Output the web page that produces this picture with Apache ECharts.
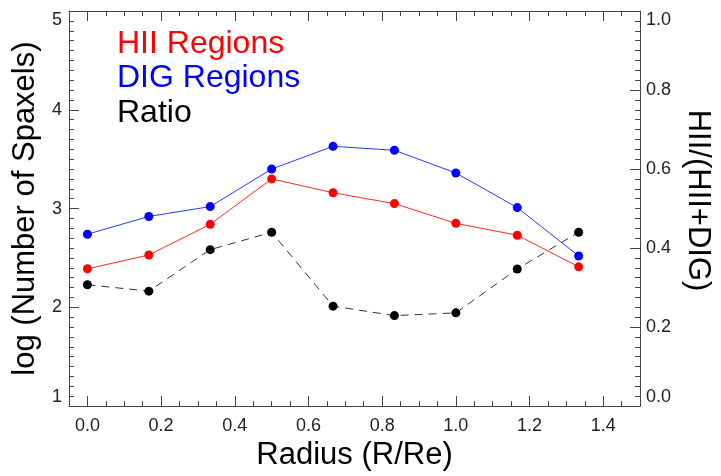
<!DOCTYPE html>
<html>
<head>
<meta charset="utf-8">
<script src="https://cdn.jsdelivr.net/npm/echarts@6/dist/echarts.min.js"></script>
<style>
html,body{margin:0;padding:0;background:#fff;}
#chart{width:721px;height:476px;}
</style>
</head>
<body>
<div id="chart"></div>
<script>
var radius = [0.0, 0.1667, 0.3333, 0.5, 0.6667, 0.8333, 1.0, 1.1667, 1.3333];
var hiiValues = [2.39, 2.53, 2.84, 3.30, 3.16, 3.05, 2.85, 2.73, 2.41];
var digValues = [2.74, 2.92, 3.02, 3.40, 3.63, 3.59, 3.36, 3.01, 2.52];
var ratioValues = [0.307, 0.291, 0.396, 0.44, 0.253, 0.229, 0.236, 0.347, 0.44];
var xTickValues = [0.0, 0.2, 0.4, 0.6, 0.8, 1.0, 1.2, 1.4];
var legendNames = ['HII Regions', 'DIG Regions', 'Ratio'];
var legendColors = ['#ff0000', '#0000ff', '#000000'];

function pairs(xs, ys) { return xs.map(function (x, i) { return [x, ys[i]]; }); }

var FONT = '"Liberation Sans", Arial, Helvetica, sans-serif';
var AX = '#444';
var chart = echarts.init(document.getElementById('chart'), null, {renderer: 'canvas'});

function xAxisCfg(pos, major) {
  var c = {
    type: 'value', position: pos, min: -0.05, max: 1.5, gridIndex: 0,
    splitLine: {show: false},
    axisLine: {show: major, onZero: false, lineStyle: {color: AX, width: 1}},
    axisTick: {show: true, inside: true, length: major ? 10 : 5, lineStyle: {color: AX, width: 1}},
    axisLabel: {show: false}
  };
  if (major) {
    c.axisTick.customValues = xTickValues;
  } else {
    c.interval = 0.05;
  }
  if (major && pos === 'bottom') {
    c.axisLabel = {show: true, customValues: xTickValues, margin: 11, color: '#222', fontSize: 18, fontFamily: FONT,
      formatter: function (v) { return v.toFixed(1); }};
    c.name = 'Radius (R/Re)';
    c.nameLocation = 'middle';
    c.nameGap = 30;
    c.nameTextStyle = {fontSize: 31, fontFamily: FONT, color: '#000', verticalAlign: 'top'};
  }
  return c;
}

var option = {
  animation: false,
  backgroundColor: '#fff',
  grid: {left: 69, top: 11, width: 575, height: 400, containLabel: false},
  xAxis: [xAxisCfg('bottom', true), xAxisCfg('bottom', false), xAxisCfg('top', true), xAxisCfg('top', false)],
  yAxis: [
    {
      type: 'value', position: 'left', min: 1, max: 5, interval: 1,
      splitLine: {show: false},
      axisLine: {show: true, onZero: false, lineStyle: {color: AX, width: 1}},
      axisTick: {show: true, inside: true, length: 10, lineStyle: {color: AX}},
      minorTick: {show: true, splitNumber: 10, length: 5, lineStyle: {color: AX}},
      axisLabel: {margin: 7, color: '#222', fontSize: 18, fontFamily: FONT,
        verticalAlignMinLabel: 'bottom', verticalAlignMaxLabel: 'top'},
      name: 'log (Number of Spaxels)', nameLocation: 'middle', nameGap: 22, nameRotate: 90,
      nameTextStyle: {fontSize: 31, fontFamily: FONT, color: '#000'}
    },
    {
      type: 'value', position: 'right', min: 0, max: 1, interval: 0.2,
      splitLine: {show: false},
      axisLine: {show: true, onZero: false, lineStyle: {color: AX, width: 1}},
      axisTick: {show: true, inside: true, length: 10, lineStyle: {color: AX}},
      minorTick: {show: true, splitNumber: 8, length: 5, lineStyle: {color: AX}},
      axisLabel: {margin: 6, color: '#222', fontSize: 18, fontFamily: FONT,
        verticalAlignMinLabel: 'bottom', verticalAlignMaxLabel: 'top',
        formatter: function (v) { return v.toFixed(1); }},
      name: 'HII/(HII+DIG)', nameLocation: 'middle', nameGap: 38, nameRotate: -90,
      nameTextStyle: {fontSize: 31, fontFamily: FONT, color: '#000', padding: [0, 16, 0, 0]}
    }
  ],
  series: [
    {
      name: legendNames[0], type: 'line', xAxisIndex: 0, yAxisIndex: 0,
      data: pairs(radius, hiiValues), symbol: 'circle', symbolSize: 9,
      lineStyle: {color: '#ff2a2a', width: 1}, itemStyle: {color: '#ff0000'}, z: 3
    },
    {
      name: legendNames[1], type: 'line', xAxisIndex: 0, yAxisIndex: 0,
      data: pairs(radius, digValues), symbol: 'circle', symbolSize: 9,
      lineStyle: {color: '#2a3aff', width: 1}, itemStyle: {color: '#0000ff'}, z: 3
    },
    {
      name: legendNames[2], type: 'line', xAxisIndex: 0, yAxisIndex: 1,
      data: pairs(radius, ratioValues), symbol: 'circle', symbolSize: 9,
      lineStyle: {color: '#333', width: 1, type: [8, 6]}, itemStyle: {color: '#000'}, z: 4
    }
  ],
  graphic: legendNames.map(function (n, i) {
    return {
      type: 'text', left: 117, top: 28 + i * 34.5,
      style: {text: n, fill: legendColors[i], fontSize: 32, fontFamily: FONT}
    };
  })
};
chart.setOption(option);
</script>
</body>
</html>
